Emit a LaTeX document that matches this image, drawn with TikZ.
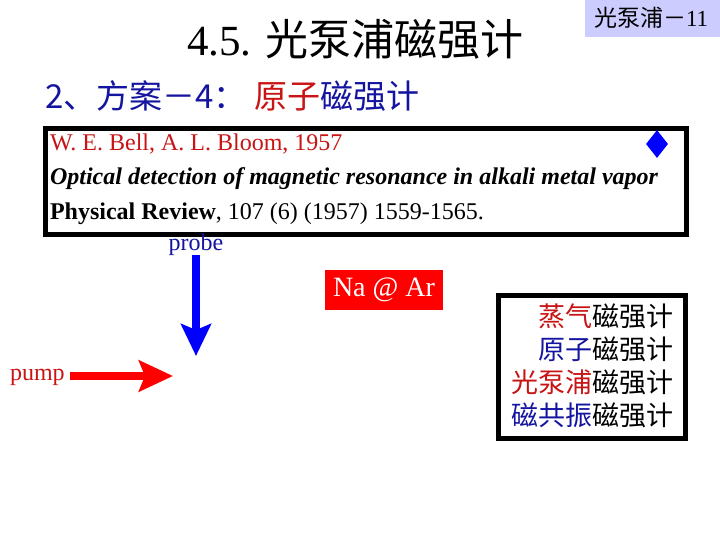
\documentclass[tikz,border=0pt]{standalone}
\usepackage{fontspec}
\setmainfont{Liberation Serif}
\newfontfamily\cjk{Noto Sans CJK SC}
\usetikzlibrary{arrows.meta,shapes.geometric}
\definecolor{dblue}{RGB}{20,20,160}
\definecolor{dred}{RGB}{200,20,20}
\definecolor{lav}{RGB}{204,204,255}
\tikzset{
  txt/.style={inner sep=0pt, outer sep=0pt},
  frame/.style={draw=black, line width=5pt, fill=white},
}
\begin{document}
\begin{tikzpicture}[x=1pt,y=-1pt]
\useasboundingbox (0,0) rectangle (720,540);
% title
\node[txt, anchor=base west] (title) at (187,56) {\fontsize{43}{43}\selectfont 4.5. \cjk 光泵浦磁强计};
% page tag
\node[fill=lav, minimum width=135pt, minimum height=37pt, anchor=north east, inner sep=0pt] (tag) at (720,0) {};
\node[txt, anchor=base west] (tagtxt) at (594,27) {\fontsize{23}{23}\selectfont\cjk 光泵浦－\rmfamily 11};
% subheading
\node[txt, anchor=base west, text=dblue] (sub) at (45,109) {\fontsize{33}{33}\selectfont\cjk 2、方案－4：\hspace{8pt}\textcolor{dred}{原子}磁强计};
% citation box
\node[frame, minimum width=641pt, minimum height=106pt, anchor=north west, inner sep=0pt] (cite) at (43,126) {};
\node[txt, anchor=base west, text=dred] (auth) at (50,151) {\fontsize{24}{24}\selectfont W. E. Bell, A. L. Bloom, 1957};
\node[txt, anchor=base west] (titl) at (50,185) {\fontsize{24}{24}\selectfont\bfseries\itshape Optical detection of magnetic resonance in alkali metal vapor};
\node[txt, anchor=base west] (jour) at (50,219) {\fontsize{24}{24}\selectfont\textbf{Physical Review}, 107 (6) (1957) 1559-1565.};
\node[diamond, fill=blue, inner sep=0pt, minimum width=22pt, minimum height=28pt, aspect=0.8] (dia) at (657,144) {};
% probe
\node[txt, text=dblue, anchor=base] (probe) at (196,250) {\fontsize{24}{24}\selectfont probe};
\coordinate (ptip) at (196,356);
\draw[blue, line width=8pt, -{Stealth[length=32pt,width=30pt,inset=6pt]}] (probe.south) -- (ptip);
% pump
\node[txt, text=dred, anchor=base west] (pump) at (10,380) {\fontsize{24}{24}\selectfont pump};
\coordinate (mtip) at (173,376);
\draw[red, line width=8pt, -{Stealth[length=34pt,width=31pt,inset=6pt]}] (70,376) -- (mtip);
% Na @ Ar
\node[fill=red, text=white, minimum width=118pt, minimum height=40pt, inner sep=0pt] (na) at (384,290) {\fontsize{28}{28}\selectfont Na @ Ar};
% right box
\node[frame, minimum width=187pt, minimum height=143pt, anchor=north west, inner sep=0pt] (rb) at (496,293) {};
\begin{scope}[every node/.style={txt, anchor=base east}]
\node (l1) at (673,326) {\fontsize{27}{27}\selectfont\cjk\textcolor{dred}{蒸气}磁强计};
\node (l2) at (673,359) {\fontsize{27}{27}\selectfont\cjk\textcolor{dblue}{原子}磁强计};
\node (l3) at (673,392) {\fontsize{27}{27}\selectfont\cjk\textcolor{dred}{光泵浦}磁强计};
\node (l4) at (673,425) {\fontsize{27}{27}\selectfont\cjk\textcolor{dblue}{磁共振}磁强计};
\end{scope}
\end{tikzpicture}
\end{document}
